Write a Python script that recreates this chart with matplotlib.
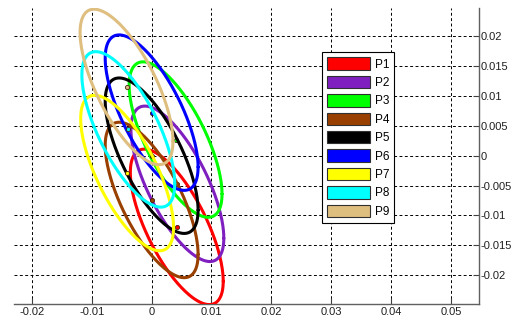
import numpy as np
import matplotlib.pyplot as plt
from matplotlib.patches import Patch

plt.rcParams['font.family'] = ['Liberation Sans', 'DejaVu Sans']

names = ['P1', 'P2', 'P3', 'P4', 'P5', 'P6', 'P7', 'P8', 'P9']
colors = ['#ff0000', '#7f1fbf', '#00ff00', '#994000', '#000000',
          '#0000ff', '#ffff00', '#00ffff', '#dfbf80']
center_x = [0.0042, 0.0043, 0.0040, 0.0, 0.0, 0.0, -0.0041, -0.0039, -0.0042]
center_y = [-0.0119, -0.0047, 0.0027, -0.0074, 0.0, 0.0072, -0.0029, 0.0044, 0.0115]

# common ellipse shape: half width, half height, correlation
half_w = 0.00776
half_h = 0.0130
rho = -0.70

xticks = [-0.02, -0.01, 0, 0.01, 0.02, 0.03, 0.04, 0.05]
xticklabels = ['-0.02', '-0.01', '0', '0.01', '0.02', '0.03', '0.04', '0.05']
yticks = [-0.02, -0.015, -0.01, -0.005, 0, 0.005, 0.01, 0.015, 0.02]
yticklabels = ['-0.02', '-0.015', '-0.01', '-0.005', '0', '0.005', '0.01', '0.015', '0.02']

fig = plt.figure(figsize=(5.23, 3.24), dpi=100)
ax = fig.add_axes([14 / 523, 20 / 324, 465 / 523, 296 / 324])

cov = np.array([[half_w ** 2, rho * half_w * half_h],
                [rho * half_w * half_h, half_h ** 2]])
L = np.linalg.cholesky(cov)
t = np.linspace(0, 2 * np.pi, 300)
circle = np.vstack([np.cos(t), np.sin(t)])
shape = L @ circle

# ellipse then its centre, one P after the other
for i in range(len(names)):
    ax.plot(center_x[i] + shape[0], center_y[i] + shape[1], color=colors[i], lw=2.2,
            solid_capstyle='round', zorder=3)
    ax.plot(center_x[i], center_y[i], 'o', ms=3, color=colors[i], mec='#402010',
            mew=0.6, zorder=3)

ax.set_xlim(-0.023, 0.0547)
ax.set_ylim(-0.0248, 0.0247)
ax.set_xticks(xticks)
ax.set_xticklabels(xticklabels)
ax.set_yticks(yticks)
ax.set_yticklabels(yticklabels)
ax.yaxis.tick_right()
ax.tick_params(direction='in', length=4, width=0.8, colors='#404040', labelsize=8,
               labelcolor='#202020', pad=2)
ax.tick_params(axis='y', pad=1)
ax.grid(True, linestyle=(0, (3, 2.5)), linewidth=0.7, color='k', zorder=0)
ax.set_axisbelow(True)
for s in ['left', 'top']:
    ax.spines[s].set_visible(False)
for s in ['right', 'bottom']:
    ax.spines[s].set_color('#606060')
    ax.spines[s].set_linewidth(1.0)

handles = [Patch(facecolor=c, edgecolor='#303030', linewidth=0.8) for c in colors]
leg = ax.legend(handles, names, loc='upper left', bbox_to_anchor=(322 / 523, 1 - 52 / 324),
                bbox_transform=fig.transFigure, borderaxespad=0, fancybox=False,
                framealpha=1, edgecolor='k', fontsize=8.5, handlelength=3.6,
                handleheight=1.25, labelspacing=0.44, handletextpad=0.4,
                borderpad=0.45)
leg.get_frame().set_linewidth(0.8)

plt.savefig('out.png', dpi=100)
